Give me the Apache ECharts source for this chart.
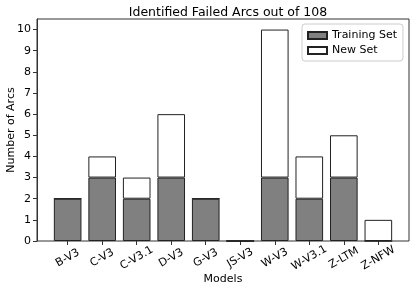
<!DOCTYPE html>
<html><head><meta charset="utf-8">
<script src="https://cdn.jsdelivr.net/npm/echarts@6/dist/echarts.min.js"></script>
<style>html,body{margin:0;padding:0;background:#fff}#c{width:415px;height:291px}</style>
</head><body><div id="c"></div>
<script>
const categories = ['B-V3','C-V3','C-V3.1','D-V3','G-V3','JS-V3','W-V3','W-V3.1','Z-LTM','Z-NFW'];
const trainingSet = [2,3,2,3,2,0,3,2,3,0];
const newSet = [0,1,1,3,0,0,7,2,2,1];
const yTicks = [0,1,2,3,4,5,6,7,8,9,10];

const font = 'DejaVu Sans';
const chart = echarts.init(document.getElementById('c'), null, {renderer: 'canvas'});
const yBase = {type: 'value', min: 0, max: 10.5, splitLine: {show: false}};
chart.setOption({
  animation: false,
  backgroundColor: '#fff',
  title: {
    text: 'Identified Failed Arcs out of 108',
    left: 223, top: 1, textAlign: 'center',
    textStyle: {fontFamily: font, fontSize: 12.5, fontWeight: 'normal', color: '#000'}
  },
  legend: {
    orient: 'vertical', left: 302, top: 24,
    itemWidth: 19, itemHeight: 7, itemGap: 4,
    padding: [6, 6, 5, 5],
    backgroundColor: '#fff', borderColor: '#ccc', borderWidth: 1, borderRadius: 3,
    icon: 'rect',
    textStyle: {fontFamily: font, fontSize: 11, color: '#000'},
    data: ['Training Set', 'New Set']
  },
  grid: [
    {left: 50.4, right: 19.4, top: 19, bottom: 50, outerBoundsMode: 'none', containLabel: false},
    {left: 37, right: 6, top: 19, bottom: 50, outerBoundsMode: 'none', containLabel: false,
     show: true, borderColor: '#333', borderWidth: 1}
  ],
  xAxis: [
    {
      type: 'category', gridIndex: 0, data: categories,
      name: 'Models', nameLocation: 'middle', nameGap: 33, nameMoveOverlap: false,
      nameTextStyle: {fontFamily: font, fontSize: 11, color: '#000'},
      axisLine: {show: false},
      axisTick: {show: true, alignWithLabel: true, length: 4, lineStyle: {color: '#333'}},
      axisLabel: {
        interval: 0, rotate: 30, align: 'center', verticalAlign: 'middle', margin: 17,
        fontFamily: font, fontSize: 11, color: '#000'
      }
    },
    {type: 'value', gridIndex: 1, min: 0, max: 1, show: false}
  ],
  yAxis: [
    Object.assign({gridIndex: 0, show: false}, yBase),
    Object.assign({
      gridIndex: 1,
      name: 'Number of Arcs', nameLocation: 'middle', nameGap: 20, nameMoveOverlap: false,
      nameTextStyle: {fontFamily: font, fontSize: 11, color: '#000'},
      axisLine: {show: true, onZero: false, lineStyle: {color: '#333'}},
      axisTick: {show: true, length: 4, customValues: yTicks, lineStyle: {color: '#333'}},
      axisLabel: {customValues: yTicks, margin: 6, fontFamily: font, fontSize: 11, color: '#000'}
    }, yBase)
  ],
  series: [
    {
      name: 'Training Set', type: 'bar', stack: 'a', barWidth: '80%',
      xAxisIndex: 0, yAxisIndex: 0,
      itemStyle: {color: '#808080', borderColor: '#222', borderWidth: 1},
      data: trainingSet
    },
    {
      name: 'New Set', type: 'bar', stack: 'a', barWidth: '80%',
      xAxisIndex: 0, yAxisIndex: 0,
      itemStyle: {color: '#fff', borderColor: '#222', borderWidth: 1},
      data: newSet
    }
  ]
});
</script></body></html>
